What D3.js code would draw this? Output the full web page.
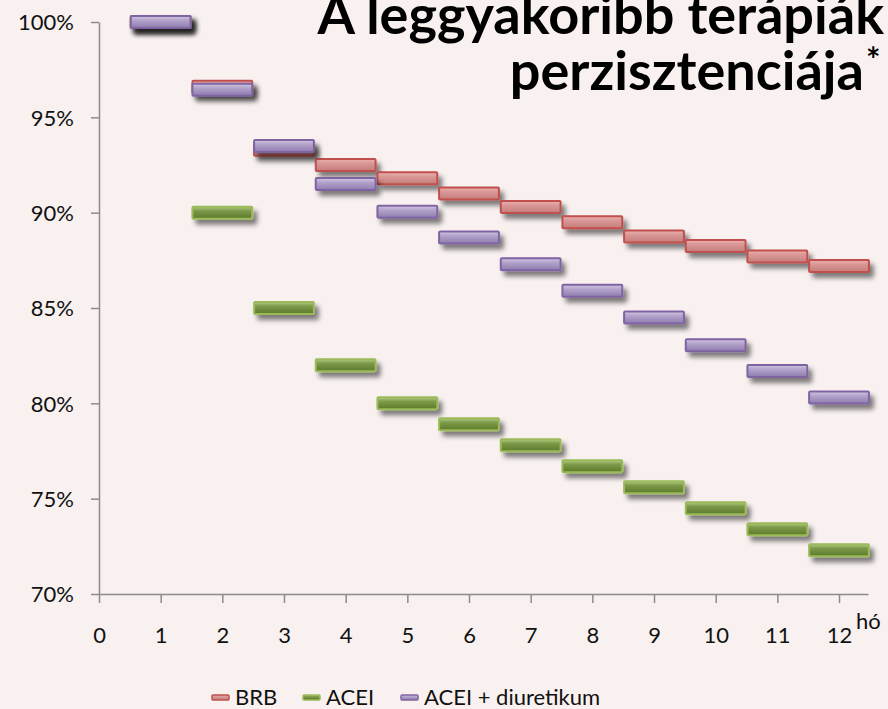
<!DOCTYPE html>
<html lang="hu">
<head>
    <meta charset="UTF-8">
    <title>A leggyakoribb terápiák perzisztenciája</title>
    <style>
        body {
            margin: 0;
            background-color: #f8f1f0;
            overflow: hidden;
        }
        svg {
            display: block;
            font-family: Lato, "Open Sans", sans-serif;
        }
        .axis path, .axis line {
            fill: none;
            stroke: #8c8c8c;
            stroke-width: 1.5px;
        }
        .axis text {
            fill: #111;
            font-family: Lato, sans-serif;
            font-size: 22px;
        }
        .title {
            font-weight: bold;
            font-size: 54px;
            fill: #000;
        }
        .legend text {
            font-size: 22px;
            fill: #111;
        }
    </style>
</head>
<body>
    <svg id="chart" width="888" height="709"></svg>

    <script src="https://d3js.org/d3.v7.min.js"></script>
    <script>
        // months on the x axis
        const months = [1, 2, 3, 4, 5, 6, 7, 8, 9, 10, 11, 12];
        const xTicks = [0, 1, 2, 3, 4, 5, 6, 7, 8, 9, 10, 11, 12];
        const yTicks = [70, 75, 80, 85, 90, 95, 100];

        // persistence (%) per month
        const brb = [100, 96.6, 93.3, 92.5, 91.8, 91.0, 90.3, 89.5, 88.75, 88.25, 87.7, 87.2];
        const acei = [100, 90.0, 85.0, 82.0, 80.0, 78.9, 77.8, 76.7, 75.6, 74.5, 73.4, 72.3];
        const aceiDiuretikum = [100, 96.45, 93.5, 91.5, 90.05, 88.7, 87.3, 85.9, 84.5, 83.05, 81.7, 80.3];

        const seriesNames = ["BRB", "ACEI", "ACEI + diuretikum"];
        const seriesData = [brb, acei, aceiDiuretikum];

        // stroke, gradient top, gradient middle, gradient bottom
        const colors = [
            { stroke: "#c0504d", top: "#eab3b2", mid: "#d99896", bottom: "#c47d7b" },
            { stroke: "#9bbb59", top: "#b2cb85", mid: "#7c9a49", bottom: "#5c7a2a" },
            { stroke: "#8064a2", top: "#d2c7e2", mid: "#b3a4cb", bottom: "#8e7bae" }
        ];

        const svg = d3.select("#chart");

        const x = d3.scaleLinear().domain([0, 12.47]).range([99, 868]);
        const y = d3.scaleLinear().domain([70, 100]).range([594, 22]);

        // gradients + shadow
        const defs = svg.append("defs");
        colors.forEach((c, i) => {
            const g = defs.append("linearGradient")
                .attr("id", "grad" + i)
                .attr("x1", 0).attr("y1", 0).attr("x2", 0).attr("y2", 1);
            g.append("stop").attr("offset", "0%").attr("stop-color", c.top);
            g.append("stop").attr("offset", "35%").attr("stop-color", c.mid);
            g.append("stop").attr("offset", "100%").attr("stop-color", c.bottom);
        });

        const shadow = defs.append("filter")
            .attr("id", "shadow")
            .attr("x", "-30%").attr("y", "-80%")
            .attr("width", "160%").attr("height", "300%");
        shadow.append("feGaussianBlur").attr("in", "SourceAlpha").attr("stdDeviation", 2.5);
        shadow.append("feOffset").attr("dx", 4).attr("dy", 5).attr("result", "off");
        shadow.append("feComponentTransfer").attr("result", "soft")
            .append("feFuncA").attr("type", "linear").attr("slope", 0.5);
        const merge = shadow.append("feMerge");
        merge.append("feMergeNode").attr("in", "soft");
        merge.append("feMergeNode").attr("in", "SourceGraphic");

        // Axes
        const yAxis = svg.append("g")
            .attr("class", "axis")
            .attr("transform", "translate(99,0)")
            .call(d3.axisLeft(y).tickValues(yTicks).tickSize(8).tickSizeOuter(0).tickPadding(17)
                .tickFormat(d => d + "%"));
        yAxis.selectAll("text").attr("dy", "0.36em");

        const xAxis = svg.append("g")
            .attr("class", "axis")
            .attr("transform", "translate(0,594)")
            .call(d3.axisBottom(x).tickValues(xTicks).tickSize(9).tickSizeOuter(0).tickPadding(24)
                .tickFormat(d3.format("d")));

        svg.append("text")
            .attr("x", x(12.47) - 12)
            .attr("y", 629)
            .style("font-size", "22px")
            .style("fill", "#111")
            .text("hó");

        // Dash markers
        const half = 0.485;
        seriesData.forEach((values, i) => {
            svg.append("g")
                .attr("class", "series")
                .selectAll("rect")
                .data(values.map((v, j) => ({ m: months[j], v: v })))
                .join("rect")
                .attr("x", d => x(d.m - half))
                .attr("y", d => y(d.v) - 6)
                .attr("width", d => x(d.m + half) - x(d.m - half))
                .attr("height", 12)
                .attr("rx", 1)
                .attr("fill", "url(#grad" + i + ")")
                .attr("stroke", colors[i].stroke)
                .attr("stroke-width", 2)
                .attr("filter", "url(#shadow)");
        });

        // Title
        svg.append("text")
            .attr("class", "title")
            .attr("x", 884)
            .attr("y", 34)
            .attr("text-anchor", "end")
            .text("A leggyakoribb terápiák");
        svg.append("text")
            .attr("class", "title")
            .attr("x", 864)
            .attr("y", 90)
            .attr("text-anchor", "end")
            .text("perzisztenciája");
        svg.append("text")
            .attr("class", "title")
            .attr("x", 866)
            .attr("y", 72)
            .style("font-size", "34px")
            .text("*");

        // Legend
        const legendX = [212, 303, 401];
        const legend = svg.append("g").attr("class", "legend");
        seriesNames.forEach((name, i) => {
            legend.append("rect")
                .attr("x", legendX[i])
                .attr("y", 695)
                .attr("width", 17)
                .attr("height", 5)
                .attr("rx", 1)
                .attr("fill", "url(#grad" + i + ")")
                .attr("stroke", colors[i].stroke)
                .attr("stroke-width", 1.5);
            legend.append("text")
                .attr("x", legendX[i] + 23)
                .attr("y", 705)
                .text(name);
        });
    </script>
</body>
</html>
